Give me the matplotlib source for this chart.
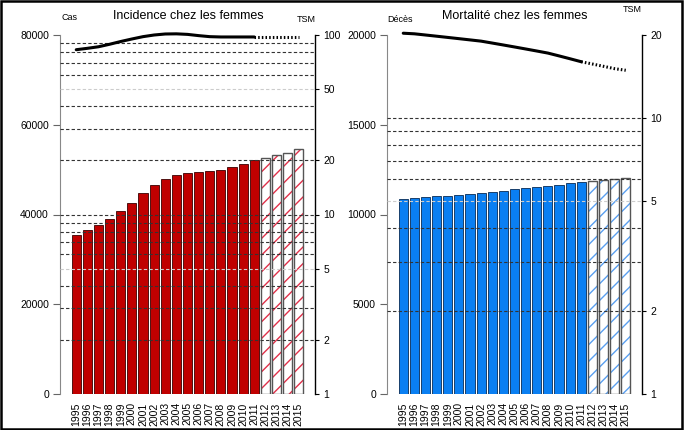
import matplotlib
matplotlib.use("Agg")
import matplotlib.pyplot as plt
from matplotlib.patches import Rectangle

plt.rcParams["font.family"] = ["Liberation Sans", "DejaVu Sans"]

years = list(range(1995, 2016))
last_observed = 2011

inc_cases = [35400, 36600, 37700, 39100, 40800, 42600, 44700, 46600, 47900, 48800, 49300,
             49500, 49600, 50000, 50500, 51300, 52100, 52700, 53300, 53800, 54500]
inc_tsm = [82.8, 84.3, 86.0, 88.8, 92.0, 95.0, 97.9, 100.0, 101.3, 101.5, 100.8,
           99.2, 97.9, 97.5, 97.5, 97.5, 97.5, 97.5, 97.5, 97.5, 97.5]

mort_deaths = [10850, 10940, 10970, 11010, 11050, 11100, 11160, 11210, 11230, 11320, 11400,
               11450, 11510, 11590, 11640, 11730, 11790, 11840, 11900, 11960, 12010]
mort_tsm = [20.3, 20.2, 20.0, 19.8, 19.6, 19.4, 19.2, 19.0, 18.7, 18.4, 18.1,
            17.8, 17.5, 17.2, 16.8, 16.4, 16.0, 15.7, 15.4, 15.1, 14.9]

inc_left_ticks = [0, 20000, 40000, 60000, 80000]
inc_right_ticks = [1, 2, 5, 10, 20, 50, 100]
inc_grid = [2, 3, 4, 5, 6, 7, 8, 9, 10, 20, 30, 40, 50, 60, 70, 80, 90]

mort_left_ticks = [0, 5000, 10000, 15000, 20000]
mort_right_ticks = [1, 2, 5, 10, 20]
mort_grid = [2, 3, 4, 5, 6, 7, 8, 9, 10]


def draw_panel(fig, rect, counts, tsm, left_ticks, right_ticks, grid_vals,
               fc, ec, hatch_c, title, left_lab, title_xy, lab_xy, tsm_xy):
    ax = fig.add_axes(rect)
    obs = [y <= last_observed for y in years]
    x_obs = [y for y, o in zip(years, obs) if o]
    x_proj = [y for y, o in zip(years, obs) if not o]
    c_obs = [c for c, o in zip(counts, obs) if o]
    c_proj = [c for c, o in zip(counts, obs) if not o]

    w = 0.83
    ax.bar(x_obs, c_obs, width=w, color=fc, edgecolor=ec, linewidth=0.6, zorder=2)
    ax.bar(x_proj, c_proj, width=w, color="white", edgecolor=hatch_c, hatch="//",
           linewidth=0, zorder=2)
    ax.bar(x_proj, c_proj, width=w, color="none", edgecolor="#555555", linewidth=1.0, zorder=3)

    ax.set_xlim(years[0] - 1.46, years[-1] + 1.46)
    ax.set_ylim(left_ticks[0], left_ticks[-1])
    ax.set_yticks(left_ticks)
    ax.set_xticks(years)
    ax.set_xticklabels([str(y) for y in years], rotation=90, fontsize=7.5)
    ax.tick_params(axis="x", length=0, pad=6)
    ax.tick_params(axis="y", length=5, width=0.8, color="#666666", labelsize=7.5, pad=3)
    for s in ["top", "bottom", "right"]:
        ax.spines[s].set_visible(False)
    ax.spines["left"].set_color("#888888")
    ax.spines["left"].set_linewidth(0.8)

    ax2 = ax.twinx()
    ax2.set_yscale("log")
    ax2.set_ylim(right_ticks[0], right_ticks[-1])
    ax2.set_yticks(right_ticks)
    ax2.set_yticklabels([str(t) for t in right_ticks])
    ax2.minorticks_off()
    ax2.tick_params(axis="y", length=3, width=0.8, labelsize=7.5, pad=3)
    for s in ["top", "bottom", "left"]:
        ax2.spines[s].set_visible(False)
    ax2.spines["right"].set_linewidth(1.0)

    # log grid, the 5-multiples are drawn pale
    for g in grid_vals:
        light = g in (5, 50)
        ax2.axhline(g, color="#cccccc" if light else "#333333", linestyle=(0, (3, 2)),
                    linewidth=0.8, zorder=1)

    n_obs = len(x_obs)
    ax2.plot(years[:n_obs], tsm[:n_obs], color="black", linewidth=2.2, clip_on=False,
             solid_capstyle="round", zorder=4)
    ax2.plot(years[n_obs - 1:], tsm[n_obs - 1:], color="black", linewidth=2.2,
             linestyle=(0, (0.5, 0.7)), clip_on=False, zorder=4)

    fig.text(title_xy[0], title_xy[1], title, ha="center", va="center", fontsize=9)
    fig.text(lab_xy[0], lab_xy[1], left_lab, ha="center", va="center", fontsize=6.5)
    fig.text(tsm_xy[0], tsm_xy[1], "TSM", ha="center", va="center", fontsize=6.5)


def main():
    W, H = 684, 430
    fig = plt.figure(figsize=(W / 100, H / 100), dpi=100)
    fig.patch.set_facecolor("white")
    fig.patches.append(Rectangle((0.002, 0.003), 0.995, 0.994, transform=fig.transFigure,
                                 fill=False, edgecolor="black", linewidth=1.8))

    bottom = (H - 394) / H
    height = 359 / H
    draw_panel(fig, [60 / W, bottom, 255 / W, height], inc_cases, inc_tsm,
               inc_left_ticks, inc_right_ticks, inc_grid, "#c00000", "#3a0000", "#e0304a",
               "Incidence chez les femmes", "Cas",
               (188 / W, 1 - 16 / H), (70 / W, 1 - 18 / H), (306 / W, 1 - 19 / H))
    draw_panel(fig, [387 / W, bottom, 255 / W, height], mort_deaths, mort_tsm,
               mort_left_ticks, mort_right_ticks, mort_grid, "#0a7ff2", "#062a55", "#5a9ff0",
               "Mortalité chez les femmes", "Décès",
               (515 / W, 1 - 16 / H), (400 / W, 1 - 19 / H), (632 / W, 1 - 10 / H))

    plt.savefig("out.png", dpi=100, facecolor="white")
    plt.close(fig)


if __name__ == "__main__":
    main()
